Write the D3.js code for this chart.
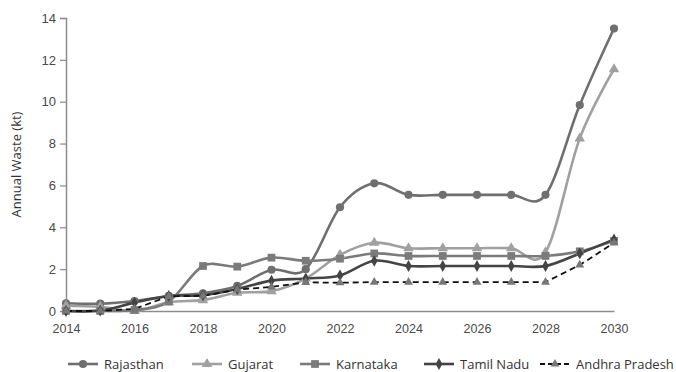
<!DOCTYPE html>
<html>
<head>
<meta charset="utf-8">
<script src="https://cdn.jsdelivr.net/npm/d3@7"></script>
<style>
  html, body { margin: 0; padding: 0; background: #fff; }
  svg { display: block; font-family: "Open Sans", "Noto Sans", sans-serif; }
</style>
</head>
<body>
<svg id="chart" width="676" height="372"></svg>
<script>
// Annual waste projections by state, 2014–2030 (kilotonnes)
const years = d3.range(2014, 2031);
const yTicks = [0, 2, 4, 6, 8, 10, 12, 14];
const xTicks = [2014, 2016, 2018, 2020, 2022, 2024, 2026, 2028, 2030];

const rajasthan     = [0.37, 0.35, 0.48, 0.72, 0.85, 1.2, 1.97, 2.0, 4.96, 6.1, 5.55, 5.55, 5.55, 5.55, 5.55, 9.84, 13.5];
const gujarat       = [0.25, 0.2, 0.0, 0.42, 0.52, 0.87, 0.95, 1.55, 2.68, 3.26, 3.0, 3.0, 3.0, 3.0, 2.8, 8.25, 11.55];
const karnataka     = [0.0, 0.0, 0.05, 0.45, 2.15, 2.12, 2.55, 2.4, 2.5, 2.75, 2.63, 2.63, 2.63, 2.63, 2.63, 2.85, 3.35];
const tamilNadu     = [0.0, 0.02, 0.4, 0.72, 0.75, 1.05, 1.45, 1.55, 1.7, 2.4, 2.15, 2.15, 2.15, 2.15, 2.15, 2.75, 3.42];
const andhraPradesh = [0.0, 0.0, 0.1, 0.7, 0.72, 1.02, 1.15, 1.37, 1.35, 1.38, 1.38, 1.38, 1.38, 1.38, 1.38, 2.2, 3.25];

const seriesNames = ["Rajasthan", "Gujarat", "Karnataka", "Tamil Nadu", "Andhra Pradesh"];
const seriesValues = [rajasthan, gujarat, karnataka, tamilNadu, andhraPradesh];

const styles = [
  { color: "#6f6f6f", marker: d3.symbolCircle,   size: 52, markerColor: "#6f6f6f", dash: null,  smooth: true,  width: 2.6 },
  { color: "#a0a0a0", marker: d3.symbolTriangle, size: 48, markerColor: "#a0a0a0", dash: null,  smooth: true,  width: 2.6 },
  { color: "#7b7b7b", marker: d3.symbolSquare,   size: 60, markerColor: "#7b7b7b", dash: null,  smooth: true,  width: 2.6 },
  { color: "#444444", marker: d3.symbolDiamond,  size: 40, markerColor: "#444444", dash: null,  smooth: true,  width: 2.6 },
  { color: "#111111", marker: d3.symbolTriangle, size: 34, markerColor: "#777777", dash: "6,4", smooth: false, width: 1.8 }
];

const svg = d3.select("#chart");
const margin = { left: 66, right: 62, top: 18, bottom: 61 };
const W = 676, H = 372;

const x = d3.scaleLinear().domain([2014, 2030]).range([margin.left, W - margin.right]);
const y = d3.scaleLinear().domain([0, 14]).range([H - margin.bottom, margin.top]);

const axisColor = "#8c8c8c";
const textColor = "#4a4a4a";

// y axis
const yAxis = svg.append("g")
  .attr("transform", `translate(${margin.left},0)`)
  .call(d3.axisLeft(y).tickValues(yTicks).tickSize(6).tickPadding(4).tickFormat(d3.format("d")));
yAxis.select(".domain").attr("stroke", axisColor).attr("stroke-width", 1.5);
yAxis.selectAll(".tick line").attr("stroke", axisColor).attr("stroke-width", 1.2);
yAxis.selectAll(".tick text").attr("fill", textColor).style("font-size", "13px");

// x axis (no tick marks)
const xAxis = svg.append("g")
  .attr("transform", `translate(0,${y(0)})`)
  .call(d3.axisBottom(x).tickValues(xTicks).tickSize(0).tickPadding(13).tickFormat(d3.format("d")));
xAxis.select(".domain").attr("stroke", axisColor).attr("stroke-width", 1.5);
xAxis.selectAll(".tick text").attr("fill", textColor).style("font-size", "12.5px");

// y axis title
svg.append("text")
  .attr("transform", `translate(21,${(y(0) + y(14)) / 2}) rotate(-90)`)
  .attr("text-anchor", "middle")
  .attr("fill", "#333")
  .style("font-size", "13px")
  .text("Annual Waste (kt)");

// series lines and markers
const plot = svg.append("g");
seriesValues.forEach((vals, i) => {
  const s = styles[i];
  const line = d3.line()
    .x((d, j) => x(years[j]))
    .y(d => y(d))
    .curve(s.smooth ? d3.curveCardinal.tension(0) : d3.curveLinear);
  plot.append("path")
    .datum(vals)
    .attr("fill", "none")
    .attr("stroke", s.color)
    .attr("stroke-width", s.width)
    .attr("stroke-dasharray", s.dash)
    .attr("stroke-linejoin", "round")
    .attr("d", line);
});
seriesValues.forEach((vals, i) => {
  const s = styles[i];
  plot.append("g").selectAll("path")
    .data(vals)
    .join("path")
    .attr("transform", (d, j) => `translate(${x(years[j])},${y(d)})`)
    .attr("d", d3.symbol().type(s.marker).size(s.size))
    .attr("fill", s.markerColor);
});

// legend
const legendY = 364;
const legendX = [68, 192, 300, 424, 540];
const legend = svg.append("g");
seriesNames.forEach((name, i) => {
  const s = styles[i];
  const g = legend.append("g").attr("transform", `translate(${legendX[i]},${legendY})`);
  g.append("line")
    .attr("x1", 0).attr("x2", 30).attr("y1", 0).attr("y2", 0)
    .attr("stroke", s.color).attr("stroke-width", s.width)
    .attr("stroke-dasharray", s.dash ? "5,3" : null);
  g.append("path")
    .attr("transform", "translate(15,0)")
    .attr("d", d3.symbol().type(s.marker).size(s.size))
    .attr("fill", s.markerColor);
  g.append("text")
    .attr("x", 36).attr("y", 0).attr("dy", "0.36em")
    .attr("fill", "#333")
    .style("font-size", "13px")
    .text(name);
});
</script>
</body>
</html>
